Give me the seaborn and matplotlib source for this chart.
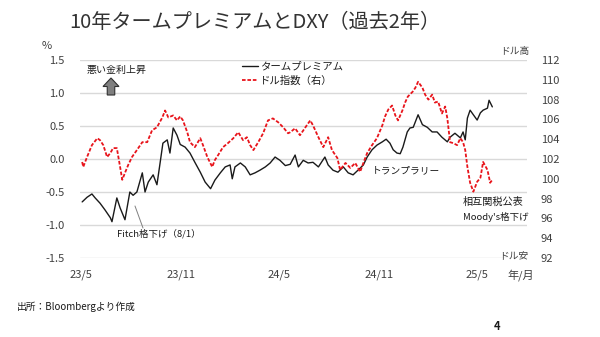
import matplotlib
matplotlib.use("Agg")
import matplotlib.pyplot as plt
import matplotlib.patches as mpatches
from matplotlib.lines import Line2D
import seaborn as sns
import pandas as pd

sns.set_theme(style="white")
plt.rcParams["font.family"] = ["Noto Sans CJK JP", "DejaVu Sans"]

# ---------------- data ----------------
tp_dates = [
    "2023-05-03", "2023-05-12", "2023-05-21", "2023-05-27", "2023-06-05", "2023-06-14",
    "2023-06-24", "2023-06-27", "2023-07-06", "2023-07-12", "2023-07-21", "2023-07-30",
    "2023-08-05", "2023-08-12", "2023-08-22", "2023-08-27", "2023-09-02", "2023-09-11",
    "2023-09-18", "2023-09-24", "2023-09-29", "2023-10-07", "2023-10-12", "2023-10-18",
    "2023-10-25", "2023-10-31", "2023-11-09", "2023-11-18", "2023-11-27", "2023-12-07",
    "2023-12-16", "2023-12-26", "2024-01-03", "2024-01-13", "2024-01-22", "2024-01-31",
    "2024-02-04", "2024-02-09", "2024-02-19", "2024-02-28", "2024-03-08", "2024-03-17",
    "2024-03-26", "2024-04-05", "2024-04-14", "2024-04-23", "2024-05-02", "2024-05-12",
    "2024-05-21", "2024-05-30", "2024-06-05", "2024-06-14", "2024-06-23", "2024-07-02",
    "2024-07-12", "2024-07-24", "2024-07-30", "2024-08-08", "2024-08-17", "2024-08-27",
    "2024-09-05", "2024-09-14", "2024-09-23", "2024-10-03", "2024-10-10", "2024-10-19",
    "2024-10-28", "2024-11-07", "2024-11-14", "2024-11-21", "2024-11-27", "2024-12-04",
    "2024-12-10", "2024-12-15", "2024-12-23", "2024-12-28", "2025-01-03", "2025-01-12",
    "2025-01-20", "2025-01-29", "2025-02-07", "2025-02-16", "2025-02-25", "2025-03-07",
    "2025-03-12", "2025-03-21", "2025-03-31", "2025-04-05", "2025-04-09", "2025-04-13",
    "2025-04-18", "2025-04-24", "2025-05-01", "2025-05-07", "2025-05-12", "2025-05-20",
    "2025-05-23", "2025-05-29",
]
tp_values = [
    -0.65, -0.58, -0.53, -0.59, -0.67, -0.77,
    -0.89, -0.95, -0.59, -0.74, -0.92, -0.50,
    -0.55, -0.50, -0.21, -0.50, -0.35, -0.24,
    -0.39, -0.05, 0.24, 0.29, 0.09, 0.47,
    0.36, 0.22, 0.18, 0.09, -0.05, -0.20,
    -0.35, -0.45, -0.32, -0.21, -0.12, -0.09,
    -0.30, -0.12, -0.06, -0.12, -0.24, -0.21,
    -0.17, -0.12, -0.06, 0.03, -0.02, -0.10,
    -0.08, 0.06, -0.12, -0.02, -0.06, -0.05,
    -0.12, 0.03, -0.09, -0.17, -0.20, -0.12,
    -0.21, -0.24, -0.17, -0.09, 0.03, 0.14,
    0.21, 0.26, 0.30, 0.24, 0.14, 0.09,
    0.08, 0.18, 0.41, 0.47, 0.48, 0.67,
    0.52, 0.48, 0.41, 0.41, 0.33, 0.26,
    0.33, 0.39, 0.32, 0.41, 0.29, 0.62,
    0.74, 0.67, 0.59, 0.70, 0.74, 0.77,
    0.89, 0.79,
]

dxy_dates = [
    "2023-05-03", "2023-05-05", "2023-05-12", "2023-05-21", "2023-05-31", "2023-06-05",
    "2023-06-11", "2023-06-18", "2023-06-24", "2023-06-29", "2023-07-06", "2023-07-12",
    "2023-07-16", "2023-07-21", "2023-07-27", "2023-08-03", "2023-08-12", "2023-08-22",
    "2023-08-31", "2023-09-09", "2023-09-18", "2023-09-28", "2023-10-03", "2023-10-09",
    "2023-10-18", "2023-10-25", "2023-10-31", "2023-11-05", "2023-11-13", "2023-11-18",
    "2023-11-27", "2023-12-07", "2023-12-12", "2023-12-20", "2023-12-29", "2024-01-03",
    "2024-01-09", "2024-01-18", "2024-01-27", "2024-02-06", "2024-02-15", "2024-02-24",
    "2024-03-02", "2024-03-08", "2024-03-14", "2024-03-23", "2024-04-01", "2024-04-10",
    "2024-04-19", "2024-04-29", "2024-05-08", "2024-05-17", "2024-05-21", "2024-05-30",
    "2024-06-08", "2024-06-18", "2024-06-27", "2024-07-02", "2024-07-12", "2024-07-21",
    "2024-07-30", "2024-08-06", "2024-08-16", "2024-08-21", "2024-08-31", "2024-09-09",
    "2024-09-18", "2024-09-27", "2024-10-03", "2024-10-10", "2024-10-19", "2024-10-28",
    "2024-11-07", "2024-11-12", "2024-11-18", "2024-11-25", "2024-12-01", "2024-12-06",
    "2024-12-14", "2024-12-19", "2024-12-24", "2025-01-02", "2025-01-07", "2025-01-12",
    "2025-01-20", "2025-01-25", "2025-01-31", "2025-02-07", "2025-02-12", "2025-02-18",
    "2025-02-25", "2025-03-03", "2025-03-07", "2025-03-12", "2025-03-18", "2025-03-25",
    "2025-03-31", "2025-04-05", "2025-04-09", "2025-04-13", "2025-04-18", "2025-04-24",
    "2025-05-01", "2025-05-07", "2025-05-12", "2025-05-20", "2025-05-25", "2025-05-29",
]
dxy_values = [
    101.7, 101.2, 102.2, 103.4, 104.1, 103.9,
    103.4, 102.2, 102.6, 103.1, 103.1, 101.2,
    99.9, 100.6, 101.4, 102.2, 102.9, 103.7,
    103.7, 104.9, 105.2, 106.2, 106.9, 106.2,
    106.4, 105.9, 106.3, 105.9, 104.7, 103.7,
    103.2, 104.1, 103.4, 102.2, 101.2, 101.9,
    102.4, 103.2, 103.6, 104.1, 104.7, 103.9,
    104.2, 103.4, 102.9, 103.7, 104.6, 105.9,
    106.1, 105.7, 105.2, 104.6, 104.7, 105.1,
    104.4, 105.2, 105.9, 105.4, 104.2, 103.2,
    104.2, 102.9, 102.1, 100.9, 101.6, 101.1,
    101.6, 100.7, 101.6, 102.6, 103.4, 104.1,
    105.4, 106.3, 107.0, 107.4, 106.4, 105.9,
    106.9, 107.7, 108.3, 108.8, 109.2, 109.8,
    109.2, 108.5, 108.0, 108.5, 107.7, 107.8,
    106.6, 107.3, 106.1, 103.7, 103.6, 103.4,
    104.1, 103.7, 102.9, 101.2, 99.6, 98.7,
    99.7, 100.1, 101.7, 100.9, 99.6, 99.9,
]

xtick_dates = ["2023-05-01", "2023-11-01", "2024-05-01", "2024-11-01", "2025-05-01"]
xtick_labels = ["23/5", "23/11", "24/5", "24/11", "25/5"]
left_ticks = [-1.5, -1.0, -0.5, 0.0, 0.5, 1.0, 1.5]
left_labels = ["-1.5", "-1.0", "-0.5", "0.0", "0.5", "1.0", "1.5"]
right_ticks = [92, 94, 96, 98, 100, 102, 104, 106, 108, 110, 112]
series_names = ["タームプレミアム", "ドル指数（右）"]

tp_df = pd.DataFrame({"date": pd.to_datetime(tp_dates), "value": tp_values})
dxy_df = pd.DataFrame({"date": pd.to_datetime(dxy_dates), "value": dxy_values})

# ---------------- figure ----------------
W, H = 600, 337
fig = plt.figure(figsize=(6.0, 3.37), dpi=100)
fig.patch.set_facecolor("white")


def fx(px):
    return px / W


def fy(py):
    return 1 - py / H


ax = fig.add_axes([fx(80), fy(258), (527 - 80) / W, (258 - 60) / H])
ax2 = ax.twinx()

BLACK = "#1a1a1a"
RED = "#e8141b"
TXT = "#404040"

sns.lineplot(data=tp_df, x="date", y="value", ax=ax, color=BLACK, lw=1.0)
sns.lineplot(data=dxy_df, x="date", y="value", ax=ax2, color=RED, lw=1.3,
             linestyle=(0, (2.0, 1.0)))

ax.set_xlim(pd.Timestamp("2023-04-29"), pd.Timestamp("2025-08-01"))
ax.set_ylim(-1.5, 1.5)
ax2.set_ylim(92, 112)

ax.set_yticks(left_ticks)
ax.set_yticklabels(left_labels)
ax2.set_yticks(right_ticks)
ax2.set_yticklabels([str(t) for t in right_ticks])
ax.set_xticks(pd.to_datetime(xtick_dates))
ax.set_xticklabels(xtick_labels)

for a in (ax, ax2):
    a.set_xlabel("")
    a.set_ylabel("")
    for s in a.spines.values():
        s.set_visible(False)
    a.tick_params(length=0, labelsize=8, labelcolor=TXT)
    a.set_facecolor("none")
ax.tick_params(axis="y", pad=11)
ax2.tick_params(axis="y", pad=10)
ax.tick_params(axis="x", pad=8)

ax.yaxis.grid(True, color="#d9d9d9", lw=1.0)
ax.xaxis.grid(False)
ax2.grid(False)

# legend
handles = [Line2D([], [], color=BLACK, lw=1.0),
           Line2D([], [], color=RED, lw=1.3, linestyle=(0, (2.0, 1.0)))]
fig.legend(handles, series_names, loc="upper left",
           bbox_to_anchor=(fx(242), fy(62)), frameon=False, fontsize=7.5,
           handlelength=1.5, handletextpad=0.2, labelspacing=0.35,
           borderpad=0, borderaxespad=0, labelcolor=BLACK)

# title & texts
fig.text(fx(255), fy(22), "10年タームプレミアムとDXY（過去2年）", ha="center",
         va="center", fontsize=14.5, color="#333333")
fig.text(fx(47), fy(46), "%", ha="center", va="center", fontsize=8, color=TXT)
fig.text(fx(515), fy(51), "ドル高", ha="center", va="center", fontsize=7, color=TXT)
fig.text(fx(514), fy(255), "ドル安", ha="center", va="center", fontsize=7, color=TXT)
fig.text(fx(521), fy(275), "年/月", ha="center", va="center", fontsize=8, color=TXT)
fig.text(fx(117), fy(70), "悪い金利上昇", ha="center", va="center", fontsize=7.2, color=BLACK)
fig.text(fx(117), fy(234), "Fitch格下げ（8/1）", ha="left", va="center", fontsize=6.8, color=BLACK)
fig.text(fx(372), fy(170), "トランプラリー", ha="left", va="center", fontsize=7, color=BLACK)
fig.text(fx(463), fy(202), "相互関税公表", ha="left", va="center", fontsize=7.3, color=BLACK)
fig.text(fx(463), fy(217), "Moody's格下げ", ha="left", va="center", fontsize=6.8, color=BLACK)
fig.text(fx(17), fy(307), "出所：Bloombergより作成", ha="left", va="center", fontsize=7, color=BLACK)
fig.text(fx(497), fy(327), "4", ha="center", va="center", fontsize=8, color=BLACK,
         fontweight="bold")

# Fitch leader line
fig.add_artist(Line2D([fx(143), fx(135)], [fy(228), fy(206)], color="#808080", lw=0.7,
                      transform=fig.transFigure))

# block arrow (悪い金利上昇)
arrow = mpatches.FancyArrow(1.11, (H - 95) / 100, 0, 0.17, width=0.075,
                            head_width=0.16, head_length=0.085,
                            length_includes_head=True, transform=fig.dpi_scale_trans,
                            facecolor="#7f7f7f", edgecolor="#303030", lw=0.8)
fig.add_artist(arrow)

fig.savefig("out.png", dpi=100, facecolor="white")
